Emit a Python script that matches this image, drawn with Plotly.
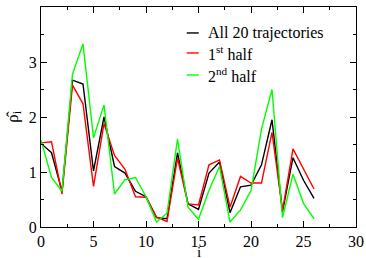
import plotly.graph_objects as go

idx = list(range(27))
all20 = [1.52, 1.35, 0.65, 2.67, 2.6, 1.02, 2.0, 1.1, 0.98, 0.65, 0.55, 0.17, 0.15, 1.35,
         0.42, 0.32, 0.98, 1.18, 0.26, 0.73, 0.76, 1.13, 1.95, 0.28, 1.26, 0.85, 0.52]
first_half = [1.53, 1.55, 0.6, 2.58, 2.24, 0.74, 1.88, 1.3, 1.05, 0.55, 0.54, 0.18, 0.1, 1.25,
              0.42, 0.4, 1.13, 1.22, 0.36, 0.92, 0.8, 0.8, 1.72, 0.3, 1.42, 1.05, 0.69]
second_half = [1.58, 0.9, 0.65, 2.78, 3.33, 1.62, 2.22, 0.6, 0.86, 0.9, 0.55, 0.09, 0.25, 1.6,
               0.36, 0.14, 0.67, 1.1, 0.09, 0.31, 0.66, 1.78, 2.5, 0.17, 0.96, 0.43, 0.15]
names = ["All 20 trajectories", "1<sup>st</sup> half", "2<sup>nd</sup> half"]
colors = ["#000000", "#ff0000", "#00ff00"]
series = [all20, first_half, second_half]

FONT = "Liberation Serif"
fig = go.Figure()
for ys, c, n in zip(series, colors, names):
    fig.add_trace(go.Scatter(x=idx, y=ys, mode="lines", name=n,
                             line=dict(color=c, width=1.4), showlegend=False))

# manual legend
leg_y = [0.882, 0.791, 0.691]
for n, c, yy in zip(names, colors, leg_y):
    fig.add_shape(type="line", xref="paper", yref="paper", x0=0.4626, x1=0.5008,
                  y0=yy, y1=yy, line=dict(color=c, width=1.4))
    fig.add_annotation(xref="paper", yref="paper", x=0.523, y=yy, text=n,
                       showarrow=False, xanchor="left", yanchor="middle",
                       font=dict(family=FONT, size=16, color="black"))

# axis titles
fig.add_annotation(xref="paper", yref="paper", x=0.5, y=-0.112, text="i",
                   showarrow=False, xanchor="center", yanchor="middle",
                   font=dict(family=FONT, size=15, color="black"))
fig.add_annotation(xref="paper", yref="paper", x=-0.045, y=0.5, text="ρ̂<sub>i</sub>",
                   showarrow=False, xanchor="right", yanchor="middle", textangle=-90,
                   font=dict(family=FONT, size=17, color="black"))

axis_common = dict(showgrid=False, zeroline=False, showline=True, linecolor="black",
                   linewidth=1.2, mirror="allticks", ticks="inside", ticklen=6,
                   tickcolor="black", tickwidth=1, automargin=False,
                   tickfont=dict(family=FONT, size=16, color="black"))
fig.update_xaxes(range=[0, 30], dtick=5, tick0=0,
                 minor=dict(ticks="inside", dtick=2.5, ticklen=3, tickcolor="black"),
                 **axis_common)
fig.update_yaxes(range=[0, 4], dtick=1, tick0=0,
                 minor=dict(ticks="inside", dtick=0.5, ticklen=3, tickcolor="black"),
                 **axis_common)
fig.update_layout(width=366, height=258, margin=dict(l=41, r=10, t=7, b=31),
                  font=dict(family=FONT, color="black"),
                  paper_bgcolor="white", plot_bgcolor="white", showlegend=False)
fig.write_html("out.html", config={"displayModeBar": False},
               post_script="document.body.style.margin='0';document.body.style.overflow='hidden';")
